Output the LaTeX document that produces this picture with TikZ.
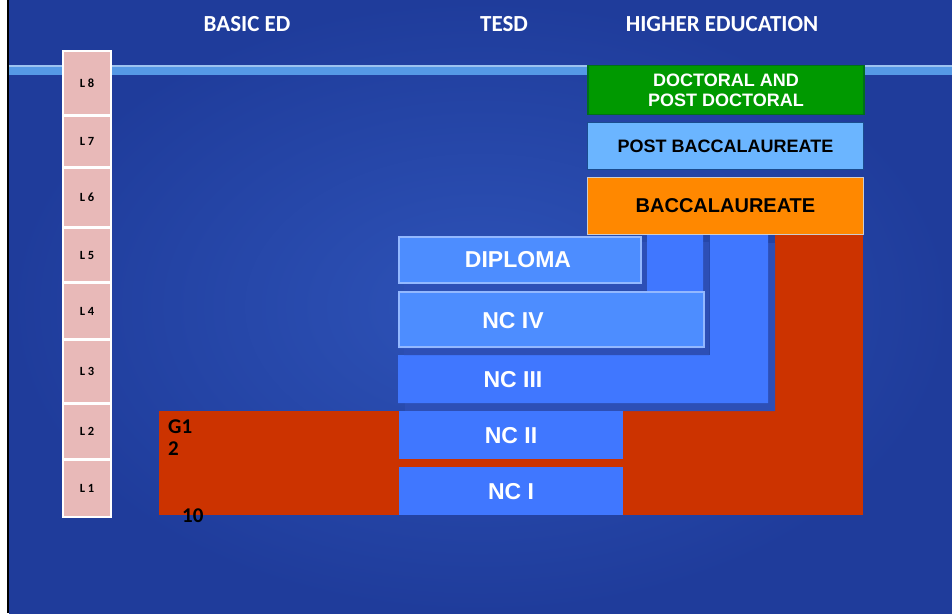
\documentclass[tikz,border=0pt]{standalone}
\usepackage{fontspec}
\setmainfont{Liberation Sans}
\newfontfamily\calibri{Carlito}
\usetikzlibrary{positioning}
\definecolor{bglight}{HTML}{2E53B8}
\definecolor{bgdark}{HTML}{1F3C9B}
\definecolor{bandblue}{HTML}{5599E6}
\definecolor{bandtop}{HTML}{9DC3F0}
\definecolor{levelpink}{HTML}{E8B9B8}
\definecolor{basicred}{HTML}{CC3300}
\definecolor{ncblue}{HTML}{4077FF}
\definecolor{liteblue}{HTML}{4D8DFF}
\definecolor{liteedge}{HTML}{93B8FF}
\definecolor{shadowblue}{HTML}{2D4FB6}
\definecolor{docgreen}{HTML}{009900}
\definecolor{docedge}{HTML}{00701A}
\definecolor{pbblue}{HTML}{6BB5FF}
\definecolor{pbedge}{HTML}{1A4C8F}
\definecolor{bacorange}{HTML}{FF8800}
\definecolor{bacedge}{HTML}{CDCDCD}
\tikzset{
  head/.style={text=white,inner sep=0pt,font=\calibri\bfseries\fontsize{23}{26}\selectfont},
  lvl/.style={inner sep=0pt,font=\calibri\bfseries\fontsize{12.5}{14}\selectfont},
  nclabel/.style={text=white,inner sep=0pt,font=\bfseries\fontsize{23}{26}\selectfont},
  litebox/.style={fill=liteblue,draw=liteedge,line width=1.5pt,inner sep=0pt},
  hibox/.style={inner sep=0pt,line width=1.5pt,minimum width=276pt,align=center,font=\bfseries\fontsize{18}{21}\selectfont},
  grade/.style={inner sep=0pt,anchor=base west,font=\calibri\bfseries\fontsize{21}{22}\selectfont}
}
\begin{document}
\begin{tikzpicture}[x=1pt,y=-1pt]
\useasboundingbox (0,0) rectangle (952,613);
\fill[white] (0,0) rectangle (952,613);
\shade[inner color=bglight,outer color=bgdark] (9,0) rectangle (952,613);
\fill[black] (6.5,0) rectangle (9,613);
\fill[bandblue] (9,65) rectangle (952,75);
\fill[bandtop] (9,65) rectangle (952,67);

\node[head] (basic) at (247,24) {BASIC ED};
\node[head] (tesd) at (504,24) {TESD};
\node[head] (higher) at (722,24) {HIGHER EDUCATION};

\fill[white] (62,50) rectangle (112,518);
\foreach \n/\t/\b in {8/52/114,7/117/166,6/169/226,5/229/281,4/284/338,3/341/402,2/405/458,1/461/516}
{
  \fill[levelpink] (64,\t) rectangle (110,\b);
  \node[lvl] (l\n) at (87,{(\t+\b)/2}) {L \n};
}

\fill[basicred] (159,411) rectangle (863,515);
\fill[basicred] (775,235) rectangle (863,411);
\node[grade] (gradeA) at (168,433) {G1};
\node[grade] (gradeB) at (168,455) {2};
\node[grade] (gradeC) at (182,522) {10};

\fill[shadowblue,shift={(7,8)}] (398,355) -- (710,355) -- (710,235) -- (768,235) -- (768,403) -- (398,403) -- cycle;
\fill[ncblue] (398,355) -- (710,355) -- (710,235) -- (768,235) -- (768,403) -- (398,403) -- cycle;
\fill[shadowblue,shift={(6,7)}] (398,291) -- (647,291) -- (647,235) -- (703,235) -- (703,348) -- (398,348) -- cycle;
\fill[ncblue] (398,291) -- (647,291) -- (647,235) -- (703,235) -- (703,348) -- (398,348) -- cycle;
\fill[shadowblue] (404,242) rectangle (647,290);
\node[litebox,minimum width=305pt,minimum height=55pt] (nc4box) at (551.5,319.5) {};
\node[litebox,minimum width=242pt,minimum height=46pt] (diplomabox) at (520,260) {};
\fill[ncblue] (399,411) rectangle (623,459);
\fill[ncblue] (399,467) rectangle (623,515);

\node[nclabel] (diploma) at (518,260) {DIPLOMA};
\node[nclabel] (nc4) at (513,321) {NC IV};
\node[nclabel] (nc3) at (513,380) {NC III};
\node[nclabel] (nc2) at (511,436) {NC II};
\node[nclabel] (nc1) at (511,492) {NC I};

\node[hibox,fill=docgreen,draw=docedge,minimum height=49pt,text=white] (doctoral) at (726,90) {DOCTORAL AND\\[-1pt]POST DOCTORAL};
\node[hibox,fill=pbblue,draw=pbedge,minimum height=47pt] (postbac) at (725.5,146) {POST BACCALAUREATE};
\node[hibox,fill=bacorange,draw=bacedge,minimum height=57pt,font=\bfseries\fontsize{20}{24}\selectfont] (bac) at (725.5,206) {BACCALAUREATE};
\end{tikzpicture}
\end{document}
